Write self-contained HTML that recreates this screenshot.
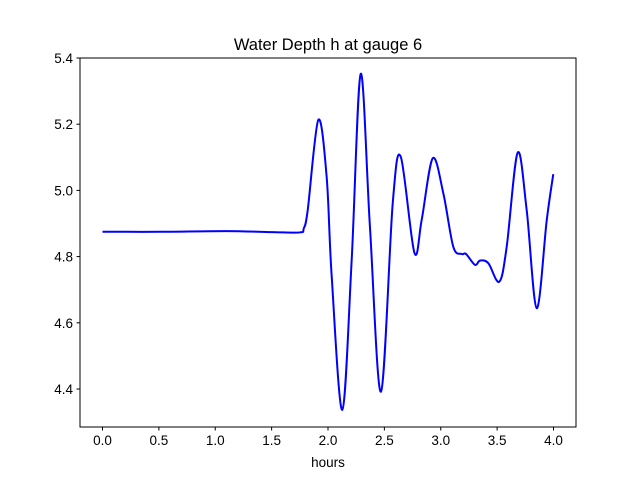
<!DOCTYPE html>
<html><head><meta charset="utf-8"><style>
body{margin:0;background:#fff;}
svg{display:block;font-family:"Liberation Sans","DejaVu Sans",sans-serif;}
</style></head><body>
<svg id="chart" width="640" height="480">
<rect width="640" height="480" fill="#fff"/>
<text x="328" y="50" text-anchor="middle" font-size="16.5">Water Depth h at gauge 6</text>
<g id="plot"></g>
<rect x="80" y="58" width="496" height="369" fill="none" stroke="#000" stroke-width="1"/>
<text x="328" y="467" text-anchor="middle" font-size="13.5">hours</text>
</svg>
<script>
const hours=[0,0.5,1.1,1.5,1.75,1.785,1.82,1.914,1.988,2.033,2.127,2.21,2.29,2.372,2.47,2.574,2.645,2.766,2.831,2.929,3.023,3.111,3.186,3.224,3.304,3.348,3.422,3.519,3.585,3.682,3.762,3.851,3.94,3.998];
const depth=[4.875,4.875,4.877,4.874,4.873,4.885,4.94,5.213,5.041,4.739,4.337,4.79,5.352,4.89,4.392,4.961,5.102,4.812,4.911,5.097,4.991,4.83,4.808,4.808,4.775,4.788,4.78,4.724,4.83,5.114,4.941,4.644,4.91,5.049];
const xTicks=[0,0.5,1,1.5,2,2.5,3,3.5,4];
const xTickLabels=["0.0","0.5","1.0","1.5","2.0","2.5","3.0","3.5","4.0"];
const yTicks=[4.4,4.6,4.8,5.0,5.2,5.4];
const yTickLabels=["4.4","4.6","4.8","5.0","5.2","5.4"];
const NS="http://www.w3.org/2000/svg";
const sx=t=>102.5+t*112.75;
const sy=v=>58+(5.4-v)*331;
const g=document.getElementById('plot');
function mk(tag,attrs){const e=document.createElementNS(NS,tag);for(const k in attrs)e.setAttribute(k,attrs[k]);g.appendChild(e);return e;}
xTicks.forEach((t,i)=>{
 const l=mk('line',{x1:sx(t),x2:sx(t),y1:427,y2:430.5,stroke:'#000'});
 
 
 const tx=mk('text',{x:sx(t),y:445,'text-anchor':'middle','font-size':'13.5'});
 tx.textContent=xTickLabels[i];
 
 
});
yTicks.forEach((v,i)=>{
 const l=mk('line',{x1:76.5,x2:80,y1:sy(v),y2:sy(v),stroke:'#000'});
 
 
 const tx=mk('text',{x:73,y:sy(v)+5,'text-anchor':'end','font-size':'13.5'});
 tx.textContent=yTickLabels[i];
 
 
});
const P=hours.map((t,i)=>[sx(t),sy(depth[i])]);
let d='M'+P[0][0]+','+P[0][1];
for(let i=0;i<P.length-1;i++){
 const p0=P[Math.max(i-1,0)],p1=P[i],p2=P[i+1],p3=P[Math.min(i+2,P.length-1)];
 const c1=[p1[0]+(p2[0]-p0[0])/6,p1[1]+(p2[1]-p0[1])/6];
 const c2=[p2[0]-(p3[0]-p1[0])/6,p2[1]-(p3[1]-p1[1])/6];
 d+=` C${c1[0]},${c1[1]} ${c2[0]},${c2[1]} ${p2[0]},${p2[1]}`;
}
const path=mk('path',{d:d,fill:'none',stroke:'#0000ff','stroke-width':'2'});


</script>
</body></html>
